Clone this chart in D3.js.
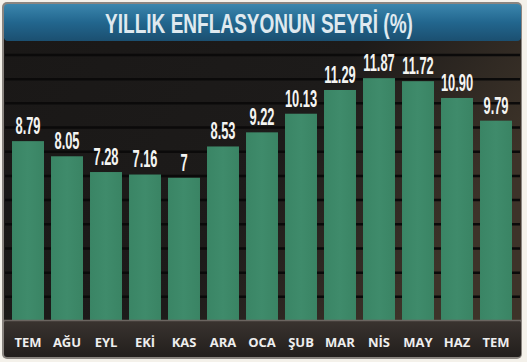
<!DOCTYPE html>
<html>
<head>
<meta charset="utf-8">
<script src="https://cdn.jsdelivr.net/npm/d3@7"></script>
<style>
  body { margin: 0; background: #f4f1ea; }
  svg { display: block; }
</style>
</head>
<body>
<svg id="chart" width="527" height="362"></svg>
<script>
// months and annual inflation values (%)
const months = ["TEM", "AĞU", "EYL", "EKİ", "KAS", "ARA", "OCA", "ŞUB", "MAR", "NİS", "MAY", "HAZ", "TEM"];
const values = [8.79, 8.05, 7.28, 7.16, 7, 8.53, 9.22, 10.13, 11.29, 11.87, 11.72, 10.90, 9.79];
const labels = ["8.79", "8.05", "7.28", "7.16", "7", "8.53", "9.22", "10.13", "11.29", "11.87", "11.72", "10.90", "9.79"];
const title = "YILLIK ENFLASYONUN SEYRİ (%)";

const svg = d3.select("#chart");
const defs = svg.append("defs");

// background gradients
let bg = defs.append("linearGradient").attr("id", "bg")
    .attr("x1", 0).attr("y1", 0).attr("x2", 1).attr("y2", 0.4);
bg.append("stop").attr("offset", "0%").attr("stop-color", "#1a1817");
bg.append("stop").attr("offset", "60%").attr("stop-color", "#1d1b1a");
bg.append("stop").attr("offset", "100%").attr("stop-color", "#3d3329");

let ttl = defs.append("linearGradient").attr("id", "ttl")
    .attr("x1", 0).attr("y1", 0).attr("x2", 0).attr("y2", 1);
ttl.append("stop").attr("offset", "0%").attr("stop-color", "#3b86ad");
ttl.append("stop").attr("offset", "50%").attr("stop-color", "#22668e");
ttl.append("stop").attr("offset", "100%").attr("stop-color", "#1b4f70");

let bar = defs.append("linearGradient").attr("id", "bar")
    .attr("x1", 0).attr("y1", 0).attr("x2", 1).attr("y2", 0);
bar.append("stop").attr("offset", "0%").attr("stop-color", "#3a8565");
bar.append("stop").attr("offset", "50%").attr("stop-color", "#3f8b6b");
bar.append("stop").attr("offset", "100%").attr("stop-color", "#3a8464");

let foot = defs.append("linearGradient").attr("id", "foot")
    .attr("x1", 0).attr("y1", 0).attr("x2", 0).attr("y2", 1);
foot.append("stop").attr("offset", "0%").attr("stop-color", "#3a3430");
foot.append("stop").attr("offset", "100%").attr("stop-color", "#221e1c");

// frame
svg.append("rect")
    .attr("x", 2).attr("y", 2).attr("width", 520).attr("height", 357)
    .attr("rx", 5).attr("fill", "#8a8580");
svg.append("rect")
    .attr("x", 4).attr("y", 38).attr("width", 517).attr("height", 283)
    .attr("fill", "url(#bg)");

// scales
let x = d3.scaleBand()
    .domain(d3.range(months.length))
    .range([8.5, 515.5])
    .paddingInner(0.18)
    .paddingOuter(0.09);
let y = d3.scaleLinear()
    .domain([0, 13])
    .range([321, 55]);

// grid lines
const gridValues = d3.range(1, 12).map(k => k * 13 / 11);
svg.append("g")
    .selectAll("line")
    .data(gridValues)
    .enter()
    .append("line")
      .attr("x1", 5).attr("x2", 520)
      .attr("y1", d => y(d)).attr("y2", d => y(d))
      .attr("stroke", "#0b0a0a")
      .attr("stroke-width", 2.5);

// bars
svg.selectAll("rect.bar")
    .data(values)
    .enter()
    .append("rect")
      .attr("class", "bar")
      .attr("x", (d, i) => x(i))
      .attr("y", d => y(d))
      .attr("width", x.bandwidth())
      .attr("height", d => y(0) - y(d))
      .attr("fill", "url(#bar)");

// value labels (condensed by a horizontal squeeze)
svg.selectAll("text.val")
    .data(values)
    .enter()
    .append("text")
      .attr("class", "val")
      .attr("transform", (d, i) => "translate(" + (x(i) + x.bandwidth() / 2) + "," + (y(d) - 7) + ") scale(0.56,1)")
      .attr("text-anchor", "middle")
      .attr("fill", "#f4f4f2")
      .style("font-family", "'Liberation Sans', sans-serif")
      .style("font-size", "23px")
      .style("font-weight", "bold")
      .text((d, i) => labels[i]);

// footer band with month labels
svg.append("rect")
    .attr("x", 4).attr("y", 320).attr("width", 517).attr("height", 37)
    .attr("rx", 3).attr("fill", "url(#foot)");
svg.append("line")
    .attr("x1", 4).attr("x2", 521).attr("y1", 320.5).attr("y2", 320.5)
    .attr("stroke", "#6b6560").attr("stroke-width", 1.5);

svg.append("g")
    .attr("transform", "translate(0,347)")
    .call(d3.axisBottom(x).tickFormat(i => months[i]).tickSize(0).tickPadding(0))
    .call(g => g.select(".domain").remove())
    .selectAll("text")
      .attr("y", 0).attr("dy", 0)
      .attr("fill", "#eeeeee")
      .style("font-family", "'Open Sans', 'Liberation Sans', sans-serif")
      .style("font-size", "13px")
      .style("font-weight", "bold");

// title banner
svg.append("rect")
    .attr("x", 4).attr("y", 4).attr("width", 517).attr("height", 37)
    .attr("rx", 4).attr("fill", "url(#ttl)");
let t = svg.append("text")
    .attr("text-anchor", "middle")
    .attr("fill", "#dfe9ef")
    .style("font-family", "'Liberation Sans', sans-serif")
    .style("font-size", "28px")
    .style("font-weight", "bold")
    .text(title);
let tw = t.node().getComputedTextLength();
t.attr("transform", "translate(259,33) scale(" + (308 / tw) + ",1)");
</script>
</body>
</html>
